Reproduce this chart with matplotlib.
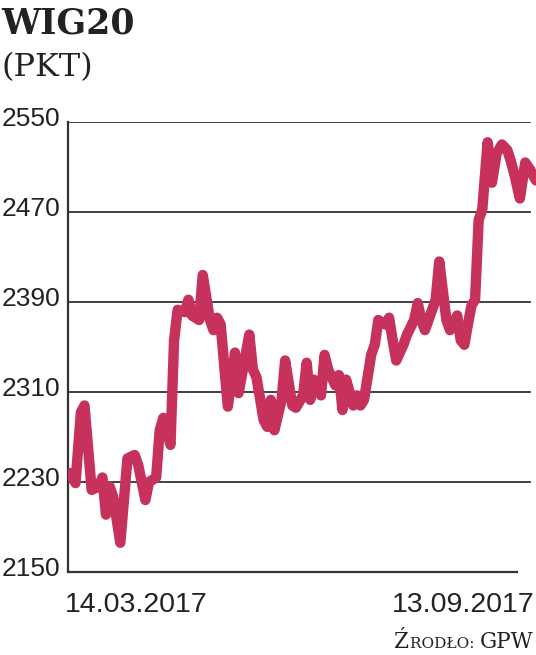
import matplotlib
matplotlib.use('Agg')
import matplotlib.pyplot as plt

# sesje od 14.03.2017 (0) do 13.09.2017 (130) i kurs WIG20 w punktach
sesje = [0, 1.5, 3, 4, 6, 8, 9, 10, 11, 12, 14, 16, 18, 19, 21, 22, 24, 25, 26, 28,
         29, 30, 32, 33, 34, 36, 37, 39, 40, 41, 42, 44, 46, 47, 50, 51, 52, 54, 55, 56,
         57, 59, 60, 62, 63, 65, 66, 67, 68, 70, 71, 72, 74, 75, 76, 77, 79, 80, 81, 82,
         84, 85, 86, 88, 89, 90, 91, 93, 94, 96, 97, 98, 99, 100, 102, 103, 105, 106, 108, 109,
         110, 111, 112, 113, 114, 115, 116.5, 117.7, 119, 120.5, 122, 123, 124, 125.5, 127, 128.3, 130]
kurs = [2238, 2229, 2292, 2298, 2223, 2226, 2234, 2201, 2226, 2217, 2176, 2251, 2254, 2245, 2214, 2230, 2234, 2276, 2287, 2263,
        2356, 2383, 2381, 2392, 2378, 2374, 2414, 2374, 2365, 2376, 2370, 2297, 2345, 2309, 2361, 2330, 2323, 2285, 2279, 2303,
        2276, 2303, 2338, 2298, 2296, 2307, 2336, 2303, 2321, 2307, 2343, 2330, 2316, 2325, 2294, 2321, 2298, 2307, 2298, 2303,
        2343, 2352, 2374, 2370, 2376, 2356, 2338, 2352, 2361, 2374, 2389, 2374, 2365, 2374, 2392, 2426, 2374, 2365, 2378, 2356,
        2352, 2370, 2387, 2392, 2463, 2472, 2532, 2496, 2522, 2530, 2525, 2515, 2503, 2482, 2514, 2508, 2498]

poziomy = [2150, 2230, 2310, 2390, 2470, 2550]
daty = ['14.03.2017', '13.09.2017']

kolor = '#C6325B'
szary = '#333333'
tekst = '#222222'

fig = plt.figure(figsize=(5.36, 6.55), dpi=100)
ax = fig.add_axes([68/536, 1-572/655, 468/536, 450/655])
ax.set_xlim(-0.6, 130)
ax.set_ylim(2150, 2550)

for p in poziomy[1:]:
    ax.axhline(p, xmin=0, xmax=0.987, color=szary, lw=1.3, zorder=1)
ax.axhline(2150, xmin=0, xmax=0.959, color=szary, lw=1.6, zorder=1, clip_on=False)
ax.axvline(-0.6, ymin=0, ymax=1, color=szary, lw=1.6, zorder=1, clip_on=False)

ax.plot(sesje, kurs, color=kolor, lw=7.5, solid_joinstyle='round', solid_capstyle='round', zorder=3)

for s in ax.spines.values():
    s.set_visible(False)
ax.set_xticks([])
ax.set_yticks([])

for p in poziomy:
    ax.text(-0.017, p + 3, str(p), transform=ax.get_yaxis_transform(), ha='right', va='center',
            fontsize=19, family='Liberation Sans', color=tekst)

fig.text(65/536, 1-612/655, daty[0], fontsize=20.5, family='Liberation Sans', color=tekst, ha='left', va='baseline')
fig.text(535/536, 1-612/655, daty[1], fontsize=20.5, family='Liberation Sans', color=tekst, ha='right', va='baseline')

fig.text(1/536, 1-33/655, 'WIG20', fontsize=25, family='DejaVu Serif', weight='bold', color=tekst, va='baseline')
fig.text(1/536, 1-76/655, '(PKT)', fontsize=23, family='DejaVu Serif', color=tekst, va='baseline')

# zrodlo kapitalikami: duze litery wieksze, reszta mniejsza
r = fig.canvas.get_renderer()
x = 394/536
for kawalek, rozm in [('Ź', 15.5), ('RODŁO: ', 11), ('GPW', 15.5)]:
    t = fig.text(x, 1-648/655, kawalek, fontsize=rozm, family='DejaVu Serif', color=tekst, va='baseline')
    bb = t.get_window_extent(renderer=r)
    x = (bb.x1 + 0.5) / fig.bbox.width

fig.savefig('out.png', dpi=100)
